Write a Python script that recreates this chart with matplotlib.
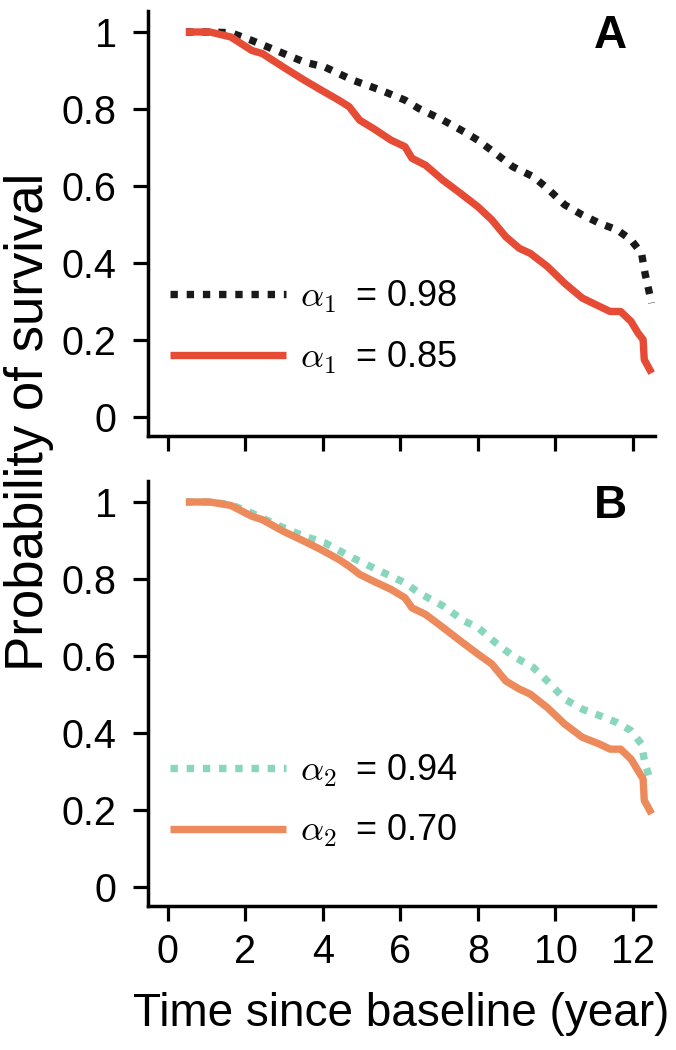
import matplotlib
matplotlib.use("Agg")
import matplotlib.pyplot as plt

plt.rcParams['font.family'] = ['Liberation Sans', 'DejaVu Sans']
plt.rcParams['mathtext.fontset'] = 'cm'

# ---- data ----
time_red = [0.47, 1.09, 1.63, 2.17, 2.44, 2.98, 3.52, 3.96, 4.41, 4.68, 4.95, 5.31, 5.76, 6.12,
            6.30, 6.65, 7.10, 7.55, 8.0, 8.36, 8.72, 9.07, 9.35, 9.79, 10.24, 10.69, 11.14,
            11.41, 11.68, 11.95, 12.13, 12.26, 12.29, 12.48]
surv_a_085 = [1.0, 1.0, 0.987, 0.952, 0.944, 0.909, 0.875, 0.849, 0.823, 0.806, 0.771, 0.749,
              0.719, 0.702, 0.672, 0.654, 0.615, 0.581, 0.546, 0.512, 0.468, 0.438, 0.425,
              0.391, 0.347, 0.309, 0.287, 0.274, 0.274, 0.248, 0.218, 0.201, 0.149, 0.114]
time_dot = [0.47, 1.09, 1.63, 2.17, 2.80, 3.52, 4.05, 4.77, 5.49, 6.12, 6.48, 7.10, 7.64, 8.0,
            8.45, 8.90, 9.43, 9.79, 10.24, 10.69, 11.14, 11.59, 11.95, 12.22, 12.31, 12.48]
surv_a_098 = [1.0, 1.0, 0.998, 0.978, 0.952, 0.922, 0.909, 0.875, 0.849, 0.823, 0.801, 0.771,
              0.741, 0.719, 0.685, 0.650, 0.624, 0.594, 0.551, 0.525, 0.503, 0.486, 0.460,
              0.425, 0.373, 0.296]
surv_b_070 = [1.0, 1.0, 0.991, 0.963, 0.954, 0.924, 0.898, 0.876, 0.851, 0.833, 0.812, 0.794,
              0.773, 0.751, 0.725, 0.708, 0.674, 0.639, 0.605, 0.579, 0.535, 0.514, 0.501,
              0.466, 0.423, 0.389, 0.371, 0.358, 0.358, 0.332, 0.302, 0.281, 0.225, 0.190]
surv_b_094 = [1.0, 1.0, 0.993, 0.971, 0.941, 0.911, 0.894, 0.855, 0.820, 0.790, 0.764, 0.730,
              0.691, 0.674, 0.635, 0.600, 0.570, 0.535, 0.488, 0.462, 0.445, 0.427, 0.406,
              0.371, 0.320, 0.268]

labels_a = [r'$\alpha_{\mathsf{1}}\:$ = 0.98', r'$\alpha_{\mathsf{1}}\:$ = 0.85']
labels_b = [r'$\alpha_{\mathsf{2}}\:$ = 0.94', r'$\alpha_{\mathsf{2}}\:$ = 0.70']
panel_letters = ['A', 'B']
xticks = [0, 2, 4, 6, 8, 10, 12]
yticks = [0, 0.2, 0.4, 0.6, 0.8, 1.0]
yticklabels = ['0', '0.2', '0.4', '0.6', '0.8', '1']

W, H = 676, 1050
fig = plt.figure(figsize=(W / 100, H / 100), dpi=100)

def px_ax(x0, y0, x1, y1):
    return fig.add_axes([x0 / W, 1 - y1 / H, (x1 - x0) / W, (y1 - y0) / H])

ax_a = px_ax(148, 11, 655, 435.7)
ax_b = px_ax(148, 481, 655, 905.7)

lw = 5.3
dots = (0, (1.0, 1.2))

ax_a.plot(time_dot, surv_a_098, color='#1a1a1a', lw=lw, linestyle=dots, label=labels_a[0])
ax_a.plot(time_red, surv_a_085, color='#E64B35', lw=lw, solid_capstyle='butt', label=labels_a[1])
ax_b.plot(time_dot, surv_b_094, color='#88D6BE', lw=lw, linestyle=dots, label=labels_b[0])
ax_b.plot(time_red, surv_b_070, color='#EC8A5C', lw=lw, solid_capstyle='butt', label=labels_b[1])

for ax, letter, leg_y in [(ax_a, panel_letters[0], 0.2548), (ax_b, panel_letters[1], 0.2465)]:
    ax.set_xlim(-0.507, 12.567)
    ax.set_ylim(-0.0486, 1.0545)
    ax.set_xticks(xticks)
    ax.set_yticks(yticks)
    ax.set_yticklabels(yticklabels)
    for s in ['top', 'right']:
        ax.spines[s].set_visible(False)
    for s in ['left', 'bottom']:
        ax.spines[s].set_linewidth(2.5)
    ax.tick_params(axis='both', length=10.5, width=2.3, labelsize=28.5)
    ax.tick_params(axis='y', pad=12)
    ax.tick_params(axis='x', pad=9)
    ax.text(11.42, 0.99, letter, fontsize=33, fontweight='bold', ha='center', va='center')
    ax.legend(loc='center left', bbox_to_anchor=(0.0434, leg_y), frameon=False,
              borderpad=0, borderaxespad=0, handlelength=3.2, handletextpad=0.39,
              labelspacing=0.68, fontsize=26)

ax_a.tick_params(axis='x', labelbottom=False)
ax_b.set_xlabel('Time since baseline (year)', fontsize=33, labelpad=15)
fig.text(29 / W, 1 - 422 / H, 'Probability of survival', rotation=90,
         fontsize=38, ha='center', va='center')

fig.savefig('out.png', dpi=100)
